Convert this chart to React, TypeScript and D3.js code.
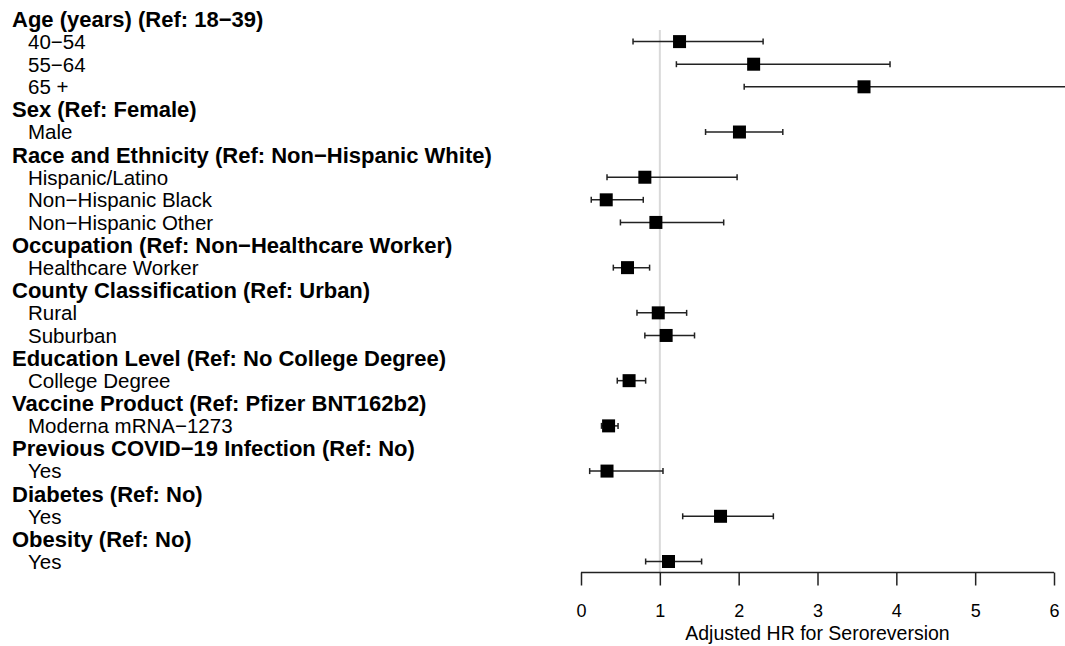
import React, { useEffect, useRef } from 'react';
import * as d3 from 'd3';

// row labels, top to bottom; headers are bold and have no estimate
const labels = [
  'Age (years) (Ref: 18\u221239)', '40\u221254', '55\u221264', '65 +',
  'Sex (Ref: Female)', 'Male',
  'Race and Ethnicity (Ref: Non\u2212Hispanic White)', 'Hispanic/Latino', 'Non\u2212Hispanic Black', 'Non\u2212Hispanic Other',
  'Occupation (Ref: Non\u2212Healthcare Worker)', 'Healthcare Worker',
  'County Classification (Ref: Urban)', 'Rural', 'Suburban',
  'Education Level (Ref: No College Degree)', 'College Degree',
  'Vaccine Product (Ref: Pfizer BNT162b2)', 'Moderna mRNA\u22121273',
  'Previous COVID\u221219 Infection (Ref: No)', 'Yes',
  'Diabetes (Ref: No)', 'Yes',
  'Obesity (Ref: No)', 'Yes',
];
const isHeader = [
  true, false, false, false,
  true, false,
  true, false, false, false,
  true, false,
  true, false, false,
  true, false,
  true, false,
  true, false,
  true, false,
  true, false,
];
// hazard ratios and 95% CI (null for header rows)
const hr = [null, 1.25, 2.19, 3.59, null, 2.01, null, 0.81, 0.32, 0.95, null, 0.59, null, 0.98, 1.08, null, 0.61, null, 0.35, null, 0.33, null, 1.77, null, 1.11];
const lower = [null, 0.66, 1.21, 2.07, null, 1.58, null, 0.33, 0.13, 0.50, null, 0.41, null, 0.71, 0.81, null, 0.46, null, 0.26, null, 0.11, null, 1.29, null, 0.82];
const upper = [null, 2.31, 3.92, 6.6, null, 2.56, null, 1.98, 0.79, 1.81, null, 0.87, null, 1.34, 1.44, null, 0.82, null, 0.47, null, 1.04, null, 2.44, null, 1.53];
const xTicks = [0, 1, 2, 3, 4, 5, 6];
const xTitle = 'Adjusted HR for Seroreversion';

const App = () => {
  const ref = useRef<SVGSVGElement>(null);

  useEffect(() => {
    const width = 1065;
    const height = 646;
    const svg = d3.select(ref.current);
    svg.selectAll('*').remove();

    const font = 'Liberation Sans, Arial, Helvetica, sans-serif';
    const x = d3.scaleLinear().domain([0, 6]).range([581, 1054]);
    const y = d3.scaleLinear().domain([0, labels.length - 1]).range([19, 561.5]);
    const axisY = 572.5;

    // labels
    svg.append('g')
      .selectAll('text')
      .data(labels)
      .enter()
      .append('text')
      .attr('x', (_, i) => isHeader[i] ? 12 : 28)
      .attr('y', (_, i) => y(i))
      .attr('dy', '0.36em')
      .attr('font-family', font)
      .attr('font-size', (_, i) => isHeader[i] ? 22 : 20.5)
      .attr('font-weight', (_, i) => isHeader[i] ? 'bold' : 'normal')
      .attr('fill', '#000')
      .text(d => d);

    // reference line at HR = 1
    svg.append('line')
      .attr('x1', x(1)).attr('x2', x(1))
      .attr('y1', 30).attr('y2', axisY)
      .attr('stroke', '#d9d9d9')
      .attr('stroke-width', 2);

    const rows = d3.range(labels.length).filter(i => hr[i] != null);
    const g = svg.append('g');

    // whiskers
    g.selectAll('line.ci')
      .data(rows)
      .enter()
      .append('line')
      .attr('class', 'ci')
      .attr('x1', i => x(lower[i] as number))
      .attr('x2', i => Math.min(x(upper[i] as number), width + 5))
      .attr('y1', i => y(i)).attr('y2', i => y(i))
      .attr('stroke', '#222')
      .attr('stroke-width', 1.5);

    // caps
    const caps = rows.flatMap(i => [[i, lower[i]], [i, upper[i]]]) as [number, number][];
    g.selectAll('line.cap')
      .data(caps)
      .enter()
      .append('line')
      .attr('class', 'cap')
      .attr('x1', d => x(d[1])).attr('x2', d => x(d[1]))
      .attr('y1', d => y(d[0]) - 3).attr('y2', d => y(d[0]) + 3)
      .attr('stroke', '#222')
      .attr('stroke-width', 1.5);

    // estimates
    g.selectAll('rect')
      .data(rows)
      .enter()
      .append('rect')
      .attr('x', i => x(hr[i] as number) - 6.5)
      .attr('y', i => y(i) - 6.5)
      .attr('width', 13)
      .attr('height', 13)
      .attr('fill', '#000');

    // x axis
    const axis = svg.append('g')
      .attr('transform', `translate(0,${axisY})`)
      .call(d3.axisBottom(x).tickValues(xTicks).tickSize(13).tickPadding(19).tickFormat(d3.format('d')));
    axis.select('.domain').attr('stroke', '#222').attr('stroke-width', 1.5).attr('d', `M${x(0)},0H${x(6)}`);
    axis.selectAll('.tick line').attr('stroke', '#222').attr('stroke-width', 1.5);
    axis.selectAll('.tick text')
      .attr('font-family', font)
      .attr('font-size', 18)
      .attr('fill', '#000');

    svg.append('text')
      .attr('x', x(3))
      .attr('y', 639.5)
      .attr('text-anchor', 'middle')
      .attr('font-family', font)
      .attr('font-size', 19.5)
      .attr('fill', '#000')
      .text(xTitle);
  }, []);

  return (
    <svg ref={ref} width={1065} height={646}
      style={{ position: 'absolute', left: 0, top: 0, background: '#fff' }} />
  );
};

export default App;
